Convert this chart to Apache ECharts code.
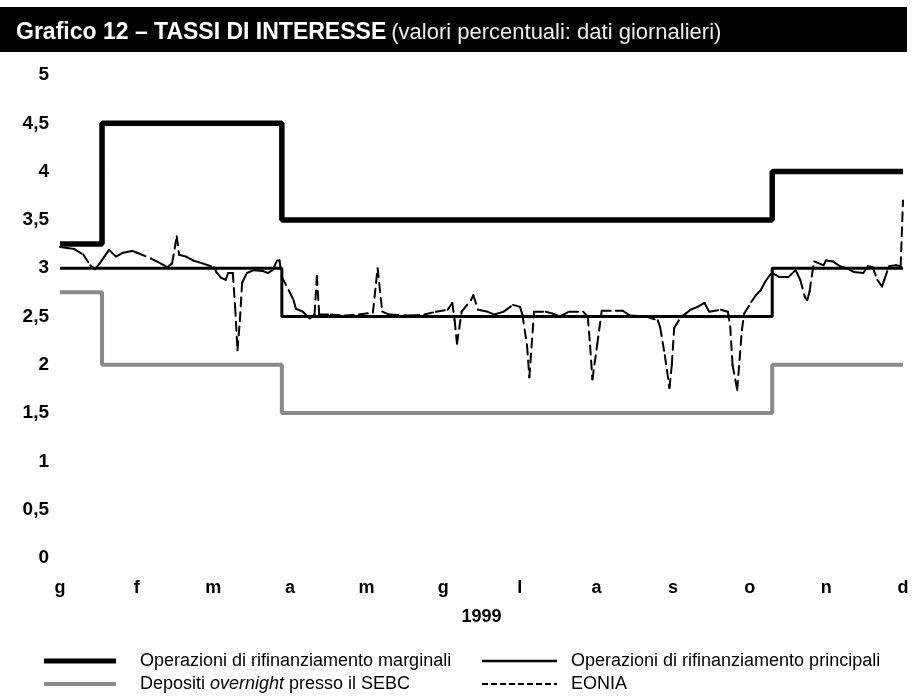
<!DOCTYPE html>
<html><head><meta charset="utf-8">
<script src="https://cdn.jsdelivr.net/npm/echarts@6/dist/echarts.min.js"></script>
<style>html,body{margin:0;padding:0;background:#fff}#c{width:922px;height:700px}</style>
</head><body><div id="c"></div>
<script>
// Month tick labels (Italian initials) and year
const monthLabels = ['g','f','m','a','m','g','l','a','s','o','n','d'];
const yearLabel = '1999';
// x values: calendar days counted from 4 January 1999 (0) to 31 December 1999 (361)
const xStart = 0, xEnd = 361;
const marginalDays  = [0, 18, 95, 305, 361];
const marginalRates = [3.25, 4.5, 3.5, 4.0, 4.0];
const mainDays  = [0, 95, 305, 361];
const mainRates = [3.0, 2.5, 3.0, 3.0];
const depositDays  = [0, 18, 95, 305, 361];
const depositRates = [2.75, 2.0, 1.5, 2.0, 2.0];
const eoniaDays = [0,3,6,10,13,15,17,19,21,24,27,31,33,39,43,46,48,50,51,54,57,61,66,67,69,71,72,74,75,76,77,78,80,83,87,89,91,93,94,95,98,100,101,104,107,109,110,111,116,122,128,134,136,138,141,150,156,161,166,168,169,170,172,176,177,179,183,186,190,194,197,198,200,201,203,208,211,214,218,224,226,227,228,230,232,238,241,244,251,256,257,259,261,262,263,266,268,270,273,276,278,283,286,287,288,290,292,293,296,298,300,302,304,305,308,312,315,316,317,319,320,321,322,323,327,328,331,334,337,340,344,346,348,350,352,353,355,358,360,361];
const eoniaRates = [3.22,3.21,3.20,3.14,3.03,2.99,3.05,3.12,3.19,3.12,3.16,3.18,3.16,3.10,3.05,3.01,3.05,3.33,3.14,3.12,3.08,3.05,3.01,2.96,2.90,2.88,2.95,2.95,2.60,2.15,2.45,2.85,2.95,2.98,2.97,2.95,2.98,3.08,3.08,2.91,2.77,2.67,2.58,2.55,2.48,2.52,2.92,2.52,2.52,2.51,2.52,2.54,3.00,2.55,2.52,2.51,2.52,2.55,2.57,2.64,2.46,2.22,2.55,2.67,2.72,2.57,2.55,2.52,2.55,2.62,2.60,2.52,2.20,1.87,2.55,2.55,2.53,2.50,2.55,2.55,2.50,2.20,1.85,2.20,2.56,2.56,2.56,2.51,2.50,2.46,2.39,2.10,1.76,2.00,2.38,2.50,2.53,2.57,2.60,2.64,2.55,2.57,2.55,2.40,2.00,1.74,2.36,2.53,2.65,2.72,2.77,2.86,2.93,2.95,2.91,2.91,2.98,2.93,2.88,2.70,2.67,2.76,2.93,3.07,3.03,3.08,3.07,3.02,3.00,2.96,2.95,3.02,3.01,2.88,2.81,2.88,3.02,3.03,3.02,3.70];
const seriesNames = ['Operazioni di rifinanziamento marginali','Depositi overnight presso il SEBC','Operazioni di rifinanziamento principali','EONIA'];

const zip = (xs, ys) => xs.map((x, i) => [x, ys[i]]);
const FONT = '"Liberation Sans", Arial, sans-serif';
const EONIA_DASH = [9, 6];

// legend drawn as graphic elements (line sample + label)
const legendItems = [
  {x: 44, y: 661, w: 72, stroke: '#000', width: 5, dash: null, text: seriesNames[0]},
  {x: 44, y: 684, w: 72, stroke: '#8a8a8a', width: 4, dash: null, text: 'Depositi {i|overnight} presso il SEBC'},
  {x: 482, y: 661, w: 75, stroke: '#000', width: 2.5, dash: null, text: seriesNames[2]},
  {x: 482, y: 684, w: 75, stroke: '#000', width: 2, dash: [6, 3], text: seriesNames[3]}
];
const legendGraphics = [];
legendItems.forEach(it => {
  legendGraphics.push({type: 'line', shape: {x1: it.x, y1: it.y, x2: it.x + it.w, y2: it.y},
    style: {stroke: it.stroke, lineWidth: it.width, lineDash: it.dash || null}});
  legendGraphics.push({type: 'text', x: it.x + it.w + (it.x < 300 ? 24 : 14), y: it.y,
    style: {text: it.text, fill: '#000', font: '18px ' + FONT, verticalAlign: 'middle',
      rich: {i: {fontFamily: FONT, fontSize: 18, fontStyle: 'italic', fill: '#000', verticalAlign: 'middle'}}}});
});

const chart = echarts.init(document.getElementById('c'), null, {renderer: 'canvas'});
chart.setOption({
  animation: false,
  backgroundColor: '#fff',
  graphic: [{type: 'rect', z: 0, shape: {x: 0, y: 7, width: 907, height: 45}, style: {fill: '#000'}}].concat(legendGraphics),
  title: {
    left: 11, top: 16, z: 10,
    text: '{b|Grafico 12 – TASSI DI INTERESSE} {n|(valori percentuali: dati giornalieri)}',
    textStyle: {
      rich: {
        b: {fontFamily: FONT, fontSize: 23, fontWeight: 'bold', color: '#fff'},
        n: {fontFamily: FONT, fontSize: 22, fontWeight: 'normal', color: '#eee'}
      }
    }
  },
  grid: {left: 60, right: 19, top: 75, bottom: 142, containLabel: false},
  xAxis: [
    {type: 'value', min: xStart, max: xEnd, show: false},
    {
      type: 'category', data: monthLabels, boundaryGap: false, position: 'bottom',
      axisLine: {show: false}, axisTick: {show: false}, splitLine: {show: false},
      axisLabel: {interval: 0, margin: 21, fontFamily: FONT, fontSize: 18, fontWeight: 'bold', color: '#000'},
      name: yearLabel, nameLocation: 'middle', nameGap: 50,
      nameTextStyle: {fontFamily: FONT, fontSize: 18, fontWeight: 'bold', color: '#000'}
    }
  ],
  yAxis: {
    type: 'value', min: 0, max: 5, interval: 0.5,
    axisLine: {show: false}, axisTick: {show: false}, splitLine: {show: false},
    axisLabel: {margin: 11, fontFamily: FONT, fontSize: 19, fontWeight: 'bold', color: '#000',
      formatter: v => String(v).replace('.', ',')}
  },
  series: [
    {name: seriesNames[0], type: 'line', step: 'end', symbol: 'none', data: zip(marginalDays, marginalRates),
      lineStyle: {color: '#000', width: 5.5}, z: 3},
    {name: seriesNames[1], type: 'line', step: 'end', symbol: 'none', data: zip(depositDays, depositRates),
      lineStyle: {color: '#8a8a8a', width: 4}, z: 3},
    {name: seriesNames[2], type: 'line', step: 'end', symbol: 'none', data: zip(mainDays, mainRates),
      lineStyle: {color: '#000', width: 3}, z: 3},
    {
      name: seriesNames[3], type: 'custom', coordinateSystem: 'cartesian2d', xAxisIndex: 0, yAxisIndex: 0, z: 4,
      data: eoniaDays.slice(1).map((d, i) => [eoniaDays[i], eoniaRates[i], d, eoniaRates[i + 1]]),
      encode: {x: [0, 2], y: [1, 3]},
      renderItem: (params, api) => {
        const p0 = api.coord([api.value(0), api.value(1)]);
        const p1 = api.coord([api.value(2), api.value(3)]);
        return {type: 'line', shape: {x1: p0[0], y1: p0[1], x2: p1[0], y2: p1[1]},
          style: {stroke: '#000', lineWidth: 2, lineDash: EONIA_DASH, lineCap: 'round'}};
      }
    }
  ]
});
</script></body></html>
